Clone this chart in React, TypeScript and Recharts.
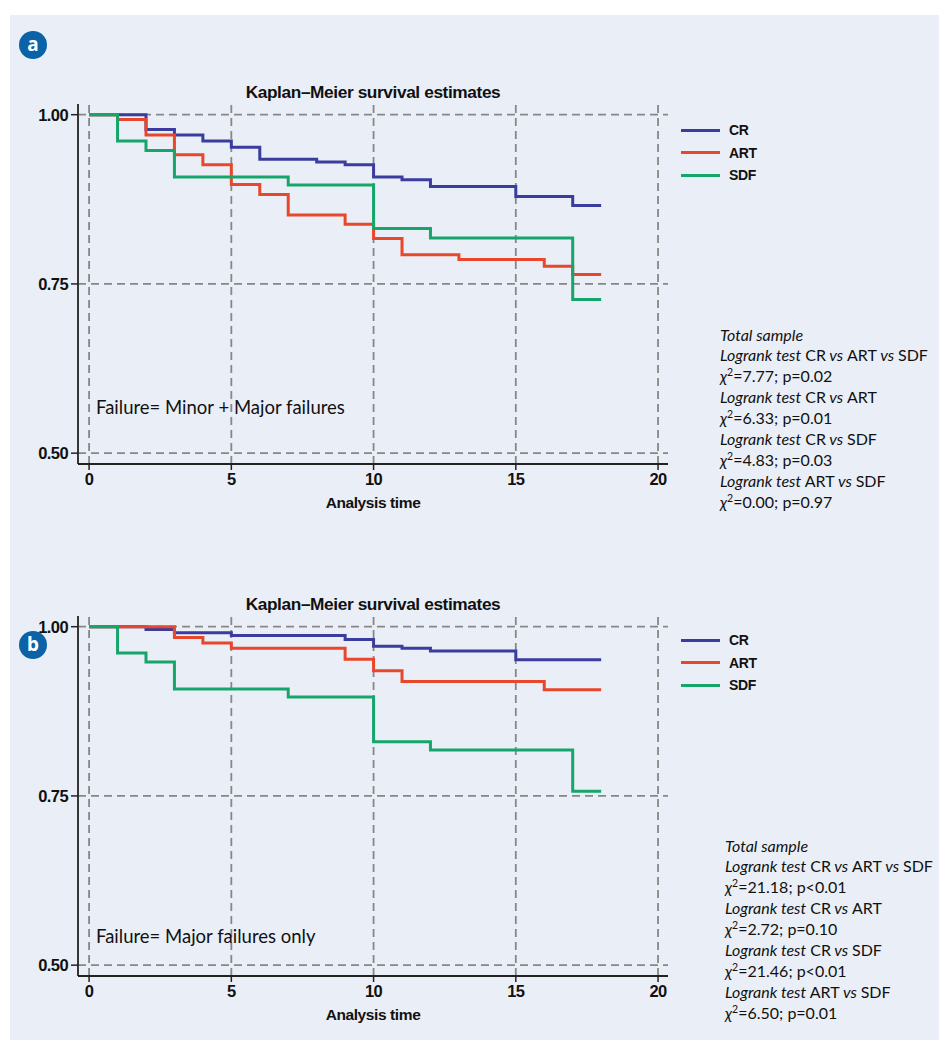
import React from "react";
import { LineChart, Line, XAxis, YAxis, ReferenceLine } from "recharts";

// time axis + survival axis ticks
const timeTicks = [0, 5, 10, 15, 20];
const survTicks = [0.5, 0.75, 1];

const groups = ["CR", "ART", "SDF"];
const groupColors = ["#3b3d9e", "#e8472b", "#16a56b"];

// panel a: minor + major failures
const crTimesA = [0, 2, 3, 4, 5, 6, 8, 9, 10, 11, 12, 15, 17, 18];
const crSurvA = [1, 0.978, 0.97, 0.961, 0.952, 0.934, 0.93, 0.926, 0.908, 0.904, 0.894, 0.879, 0.866, 0.866];
const artTimesA = [0, 1, 2, 3, 4, 5, 6, 7, 9, 10, 11, 13, 16, 17, 18];
const artSurvA = [1, 0.993, 0.97, 0.941, 0.926, 0.897, 0.882, 0.852, 0.838, 0.817, 0.793, 0.786, 0.776, 0.764, 0.764];
const sdfTimesA = [0, 1, 2, 3, 7, 10, 12, 17, 18];
const sdfSurvA = [1, 0.961, 0.947, 0.908, 0.896, 0.832, 0.818, 0.727, 0.727];

// panel b: major failures only
const crTimesB = [0, 2, 3, 5, 9, 10, 11, 12, 15, 18];
const crSurvB = [1, 0.996, 0.991, 0.987, 0.981, 0.971, 0.968, 0.964, 0.951, 0.951];
const artTimesB = [0, 3, 4, 5, 9, 10, 11, 16, 18];
const artSurvB = [1, 0.984, 0.976, 0.968, 0.952, 0.935, 0.919, 0.907, 0.907];
const sdfTimesB = [0, 1, 2, 3, 7, 10, 12, 17, 18];
const sdfSurvB = [1, 0.961, 0.948, 0.908, 0.896, 0.83, 0.818, 0.757, 0.757];

const comparisons = ["CR vs ART vs SDF", "CR vs ART", "CR vs SDF", "ART vs SDF"];
const chiA = ["7.77", "6.33", "4.83", "0.00"];
const pA = ["p=0.02", "p=0.01", "p=0.03", "p=0.97"];
const chiB = ["21.18", "2.72", "21.46", "6.50"];
const pB = ["p<0.01", "p=0.10", "p<0.01", "p=0.01"];

const zip = (t: number[], s: number[]) => t.map((x, i) => ({ t: x, s: s[i] }));

const stataFont = "'Liberation Sans', Arial, Helvetica, sans-serif";
const bodyFont = "Lato, 'Open Sans', sans-serif";

function Badge({ letter, top }: any) {
  return (
    <div
      style={{
        position: "absolute",
        left: 19,
        top,
        width: 28,
        height: 28,
        borderRadius: "50%",
        background: "#0b62a6",
        color: "#fff",
        fontFamily: "'Noto Sans', sans-serif",
        fontWeight: 700,
        fontSize: 19,
        lineHeight: "26px",
        textAlign: "center",
      }}
    >
      {letter}
    </div>
  );
}

function Stats({ top, left, chi, p }: any) {
  const lh = 20.9;
  const rows: any[] = [<i key="ts">Total sample</i>];
  comparisons.forEach((c, i) => {
    const parts = c.split(" vs ");
    rows.push(
      <span key={"l" + i}>
        <i>Logrank test</i>{" "}
        {parts.map((g, j) => (
          <React.Fragment key={j}>
            {j > 0 && <i> vs </i>}
            {g}
          </React.Fragment>
        ))}
      </span>
    );
    rows.push(
      <span key={"c" + i}>
        <i>χ</i>
        <span style={{ fontSize: 10.5, position: "relative", top: -6, lineHeight: 0 }}>2</span>={chi[i]}; {p[i]}
      </span>
    );
  });
  return (
    <div
      style={{
        position: "absolute",
        left,
        top,
        fontFamily: bodyFont,
        fontSize: 16,
        color: "#111",
        lineHeight: lh + "px",
        whiteSpace: "nowrap",
      }}
    >
      {rows.map((r, i) => (
        <div key={i} style={{ height: lh, overflow: "visible" }}>
          {r}
        </div>
      ))}
    </div>
  );
}

const tickStyle = { fill: "#111", fontSize: 16.5, fontWeight: 700, fontFamily: stataFont, letterSpacing: -0.6 };
const gridStyle = { stroke: "#878787", strokeWidth: 1.8, strokeDasharray: "8 5" };

function KMPanel({ offset, series, failure, failureTop, statsTop, statsLeft, chi, p, legendTop }: any) {
  return (
    <>
      <div
        style={{
          position: "absolute",
          left: 173,
          top: offset + 82,
          width: 400,
          textAlign: "center",
          fontFamily: stataFont,
          fontWeight: 700,
          fontSize: 17.3,
          letterSpacing: -0.4,
          lineHeight: "20px",
          color: "#111",
        }}
      >
        Kaplan–Meier survival estimates
      </div>
      <div style={{ position: "absolute", left: 0, top: offset }}>
        <LineChart width={939} height={530} margin={{ top: 104, right: 271, bottom: 36, left: 38 }}>
          <XAxis
            dataKey="t"
            type="number"
            domain={[-0.39, 20.35]}
            ticks={timeTicks}
            allowDataOverflow
            height={30}
            tickSize={6}
            tickMargin={3}
            axisLine={{ stroke: "#222", strokeWidth: 1.8 }}
            tickLine={{ stroke: "#222", strokeWidth: 1.5 }}
            tick={tickStyle}
          />
          <YAxis
            type="number"
            domain={[0.484, 1.0158]}
            ticks={survTicks}
            allowDataOverflow
            width={40}
            tickSize={7}
            tickMargin={3}
            tickFormatter={(v: number) => v.toFixed(2)}
            axisLine={{ stroke: "#222", strokeWidth: 1.8 }}
            tickLine={{ stroke: "#222", strokeWidth: 1.5 }}
            tick={tickStyle}
          />
          {timeTicks.map((v) => (
            <ReferenceLine key={"x" + v} x={v} {...gridStyle} />
          ))}
          {survTicks.map((v) => (
            <ReferenceLine key={"y" + v} y={v} {...gridStyle} />
          ))}
          {series.map((d: any, i: number) => (
            <Line
              key={groups[i]}
              data={d}
              dataKey="s"
              name={groups[i]}
              type="stepAfter"
              stroke={groupColors[i]}
              strokeWidth={3}
              dot={false}
              activeDot={false}
              isAnimationActive={false}
            />
          ))}
        </LineChart>
      </div>
      <div
        style={{
          position: "absolute",
          left: 173,
          top: offset + 493,
          width: 400,
          textAlign: "center",
          fontFamily: stataFont,
          fontWeight: 700,
          fontSize: 15.5,
          letterSpacing: -0.4,
          lineHeight: "20px",
          color: "#111",
        }}
      >
        Analysis time
      </div>
      <div
        style={{
          position: "absolute",
          left: 96,
          top: failureTop - 12,
          fontFamily: bodyFont,
          fontSize: 18.5,
          lineHeight: "24px",
          color: "#111",
          whiteSpace: "nowrap",
        }}
      >
        {failure}
      </div>
      {groups.map((g, i) => (
        <div
          key={g}
          style={{ position: "absolute", left: 681, top: legendTop + i * 22.5 - 10, height: 20, display: "flex", alignItems: "center" }}
        >
          <div style={{ width: 39, height: 3, background: groupColors[i] }} />
          <span
            style={{
              marginLeft: 9,
              fontFamily: stataFont,
              fontWeight: 700,
              fontSize: 14,
              letterSpacing: -0.3,
              color: "#111",
            }}
          >
            {g}
          </span>
        </div>
      ))}
      <Stats top={statsTop - 10.45} left={statsLeft} chi={chi} p={p} />
    </>
  );
}

export default function App() {
  return (
    <div style={{ position: "absolute", left: 0, top: 0, width: 939, height: 1045, background: "#fff", overflow: "hidden" }}>
      <div style={{ position: "absolute", left: 10, top: 15, width: 929, height: 1025, background: "#eaeff7" }} />
      <Badge letter="a" top={31} />
      <Badge letter="b" top={631} />
      <KMPanel
        offset={0}
        series={[zip(crTimesA, crSurvA), zip(artTimesA, artSurvA), zip(sdfTimesA, sdfSurvA)]}
        failure="Failure= Minor + Major failures"
        failureTop={407}
        statsTop={335}
        statsLeft={720}
        chi={chiA}
        p={pA}
        legendTop={130}
      />
      <KMPanel
        offset={512}
        series={[zip(crTimesB, crSurvB), zip(artTimesB, artSurvB), zip(sdfTimesB, sdfSurvB)]}
        failure="Failure= Major failures only"
        failureTop={936}
        statsTop={846}
        statsLeft={725}
        chi={chiB}
        p={pB}
        legendTop={640}
      />
    </div>
  );
}
